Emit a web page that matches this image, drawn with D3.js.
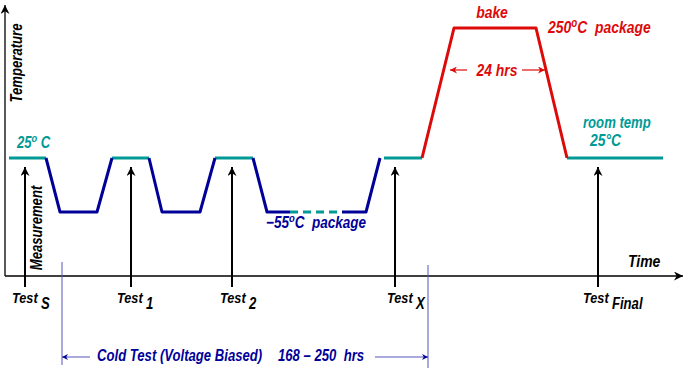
<!DOCTYPE html>
<html><head><meta charset="utf-8">
<script src="https://cdn.jsdelivr.net/npm/d3@7"></script>
<style>
html,body{margin:0;padding:0;background:#fff;}
svg text{font-family:"Liberation Sans",Arial,Helvetica,sans-serif;font-style:italic;font-weight:bold;white-space:pre;}
</style></head>
<body>
<svg id="chart" width="685" height="369"></svg>
<script>
// ---- data (schematic time units, temperatures in °C) ----
const roomHolds = [[9,46],[112,149],[215,253],[384,422],[567,663]];       // 25 °C holds
const coldPaths = [
  [[46,25],[60,-55],[97,-55],[112,25]],
  [[149,25],[162,-55],[200,-55],[215,25]],
  [[253,25],[267,-55],[290,-55]],
  [[342,-55],[366,-55],[380,25]]
];
const coldGap = [[290,-55],[342,-55]];                                     // elided cold time
const bakePath = [[422,25],[454,250],[536,250],[567,25]];                 // 250 °C bake
const testTimes = [25,131,232,395,598];
const testNames = ["Test","Test","Test","Test","Test"];
const testSubs  = ["S","1","2","X","Final"];
const tempLevels = [-55,25,250];
const coldSpan = [62,428];
const bakeSpan = [450,545];

// ---- layout ----
const labelDx = [-13,-14,-12,-8,-15];
const SX = 0.82; // condensed lettering
const teal="#009a96", blue="#000099", red="#dd0a0a", lightBlue="#5555bb";
const svg=d3.select("#chart");
const x=d3.scaleLinear().domain([0,685]).range([0,685]);
const y=d3.scaleLinear().domain(tempLevels).range([212,158,28]);
const axisY=276, originT=5;

const defs=svg.append("defs");
function marker(id,color,w,h){
  defs.append("marker").attr("id",id).attr("viewBox","0 0 10 10").attr("refX",10).attr("refY",5)
   .attr("markerWidth",w).attr("markerHeight",h).attr("markerUnits","userSpaceOnUse").attr("orient","auto")
   .append("path").attr("d","M0,0L10,5L0,10L3,5Z").attr("fill",color);
}
marker("ahBlack","#000",14,9);
marker("ahTest","#000",13,9);
marker("ahRed",red,12,7);
marker("ahBlue",blue,12,6);

// axes
svg.append("line").attr("x1",x(originT)).attr("y1",axisY).attr("x2",x(originT)).attr("y2",5)
  .attr("stroke","#000").attr("stroke-width",1.3).attr("marker-end","url(#ahBlack)");
svg.append("line").attr("x1",x(originT)).attr("y1",axisY).attr("x2",683).attr("y2",axisY)
  .attr("stroke","#000").attr("stroke-width",1.3).attr("marker-end","url(#ahBlack)");

const line=d3.line().x(d=>x(d[0])).y(d=>y(d[1]));

// profile
svg.selectAll(".room").data(roomHolds).join("path").attr("d",d=>line([[d[0],25],[d[1],25]]))
  .attr("stroke",teal).attr("stroke-width",3).attr("fill","none");
svg.selectAll(".cold").data(coldPaths).join("path").attr("d",line)
  .attr("stroke",blue).attr("stroke-width",3).attr("fill","none").attr("stroke-linejoin","round");
svg.append("path").attr("d",line(coldGap)).attr("stroke",teal).attr("stroke-width",3)
  .attr("fill","none").attr("stroke-dasharray","8,5");
svg.append("path").attr("d",line(bakePath)).attr("stroke",red).attr("stroke-width",3)
  .attr("fill","none").attr("stroke-linejoin","round");

// condensed text helper
function label(xx,yy,col,size,anchor,rot){
  return svg.append("text")
    .attr("transform",`translate(${xx},${yy})${rot?` rotate(${rot})`:""} scale(${SX},1)`)
    .attr("fill",col).attr("font-size",size).attr("text-anchor",anchor||"start");
}

// test arrows
testTimes.forEach((t,i)=>{
  svg.append("line").attr("x1",x(t)).attr("x2",x(t)).attr("y1",287).attr("y2",y(25)+9)
    .attr("stroke","#000").attr("stroke-width",2).attr("marker-end","url(#ahTest)");
  const g=label(x(t)+labelDx[i],303,"#000",15.5);
  g.append("tspan").text(testNames[i]);
  g.append("tspan").attr("dx",4).attr("dy",6).attr("font-size",16).text(testSubs[i]);
});

label(22,63,"#000",16,"middle",-90).text("Temperature");
label(42,228,"#000",16,"middle",-90).text("Measurement");
label(628,267,"#000",17).text("Time");

function degLabel(xx,yy,col,num,rest,size){
  const t=label(xx,yy,col,size);
  t.append("tspan").text(num);
  t.append("tspan").attr("font-size",size*0.7).attr("dy",-6).text("o");
  t.append("tspan").attr("dy",6).text(rest);
  return t;
}
degLabel(17,148,teal,"25"," C",16);
degLabel(266,228,blue,"\u221255","C  package",16.5);
degLabel(548,33,red,"250","C  package",17);
label(492,18,red,17,"middle").text("bake");
label(497,76,red,17,"middle").text("24 hrs");
svg.append("line").attr("x1",467).attr("x2",x(bakeSpan[0])).attr("y1",70).attr("y2",70)
  .attr("stroke",red).attr("stroke-width",1.2).attr("marker-end","url(#ahRed)");
svg.append("line").attr("x1",522).attr("x2",x(bakeSpan[1])).attr("y1",70).attr("y2",70)
  .attr("stroke",red).attr("stroke-width",1.2).attr("marker-end","url(#ahRed)");
label(583,128,teal,16).text("room temp");
label(590,146,teal,17).text("25\u00B0C");

// cold test span
coldSpan.forEach((t,i)=>{
  svg.append("line").attr("x1",x(t)).attr("x2",x(t)).attr("y1",262+3*i).attr("y2",365+3*i)
    .attr("stroke",lightBlue).attr("stroke-width",1);
});
svg.append("line").attr("x1",90).attr("x2",x(coldSpan[0])).attr("y1",357).attr("y2",357)
  .attr("stroke",lightBlue).attr("stroke-width",1).attr("marker-end","url(#ahBlue)");
svg.append("line").attr("x1",375).attr("x2",x(coldSpan[1])).attr("y1",357).attr("y2",357)
  .attr("stroke",lightBlue).attr("stroke-width",1).attr("marker-end","url(#ahBlue)");
label(97,361,blue,16).text("Cold Test (Voltage Biased)");
label(278,361,blue,16).text("168 \u2013 250  hrs");
</script>
</body></html>
